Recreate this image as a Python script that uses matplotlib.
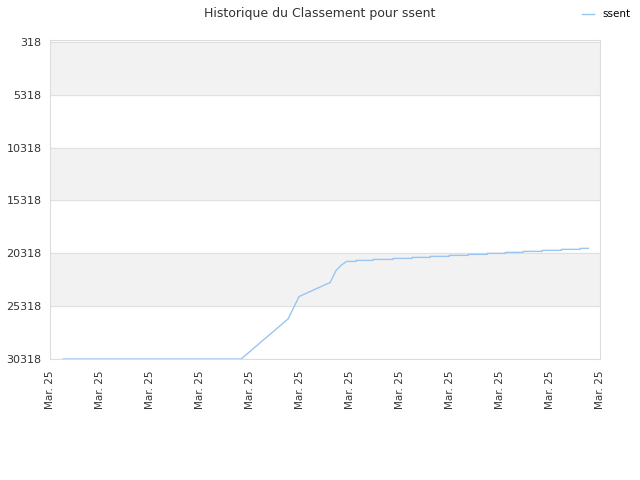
import numpy as np
import matplotlib.pyplot as plt

# rank history (x in tick units, y = rank)
x_pos = [0.26, 3.82, 4.76, 4.98, 5.60, 5.72, 5.82, 5.93,
         6.12, 6.12, 6.46, 6.46, 6.86, 6.86, 7.24, 7.24, 7.60, 7.60,
         7.98, 7.98, 8.36, 8.36, 8.74, 8.74, 9.10, 9.10, 9.46, 9.46,
         9.84, 9.84, 10.22, 10.22, 10.60, 10.60, 10.76]
ranks = [30318, 30318, 26521, 24404, 23075, 21936, 21450, 21081,
         21081, 20986, 20986, 20891, 20891, 20796, 20796, 20701, 20701, 20606,
         20606, 20511, 20511, 20416, 20416, 20321, 20321, 20226, 20226, 20131,
         20131, 20036, 20036, 19941, 19941, 19847, 19847]
tick_labels = ["Mar. 25"] * 12
y_ticks = [318, 5318, 10318, 15318, 20318, 25318, 30318]

fig = plt.figure(figsize=(6.4, 4.8), dpi=100)
ax = fig.add_axes([0.078, 0.252, 0.86, 0.665])

# alternating bands
for i in range(len(y_ticks) - 1):
    if i % 2 == 0:
        ax.axhspan(y_ticks[i], y_ticks[i + 1], color='#f2f2f2', zorder=0)
for t in y_ticks:
    ax.axhline(t, color='#e0e0e0', lw=0.8, zorder=1)

ax.plot(x_pos, ranks, color='#99c5f2', lw=1, label='ssent', zorder=3)

ax.set_xlim(0, 11)
ax.set_ylim(30318, 118)
ax.set_yticks(y_ticks)
ax.set_yticklabels([str(t) for t in y_ticks], fontsize=8, color='#333333')
ax.set_xticks(range(12))
ax.set_xticklabels(tick_labels, rotation=90, fontsize=7.5, color='#333333')
ax.tick_params(length=0, pad=6)
ax.tick_params(axis='x', pad=8)

for side in ['left', 'right', 'top', 'bottom']:
    ax.spines[side].set_color('#dddddd')
    ax.spines[side].set_linewidth(0.8)

fig.suptitle("Historique du Classement pour ssent", fontsize=9, color='#333333', y=0.985)
fig.legend(loc='upper right', bbox_to_anchor=(1.0, 1.0), frameon=False, fontsize=7.5,
           handlelength=1.2, handletextpad=0.8)

fig.savefig('out.png', dpi=100)
